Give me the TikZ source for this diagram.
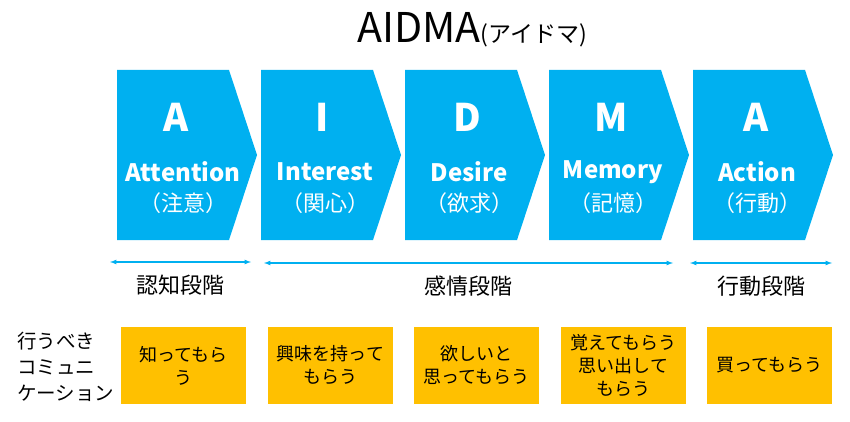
\documentclass[tikz,border=0pt]{standalone}
\usepackage{fontspec}
\setmainfont{Noto Sans CJK JP}
\definecolor{aidblue}{HTML}{00B0F0}
\definecolor{aidorange}{HTML}{FFC000}
\tikzset{
  chev/.style={fill=aidblue},
  letter/.style={text=white, font=\fontsize{38}{38}\selectfont\bfseries},
  word/.style={text=white, font=\fontsize{24}{24}\selectfont\bfseries},
  kanji/.style={text=white, font=\fontsize{22}{22}\selectfont},
  stage/.style={font=\fontsize{22}{22}\selectfont},
  todo/.style={fill=aidorange, minimum width=125pt, minimum height=77pt,
    align=center, inner sep=1pt, font=\fontsize{18}{23}\selectfont},
  span/.style={draw=aidblue, line width=1.2pt, latex-latex},
}
\begin{document}
\begin{tikzpicture}[x=1pt, y=-1pt, inner sep=0pt]
  \useasboundingbox (0,0) rectangle (850,422);
  % title
  \node (title) at (472,30) {{\fontsize{41}{41}\selectfont AIDMA}{\fontsize{23}{23}\selectfont (アイドマ)}};
  % chevrons
  \fill[chev] (117,70) -- ++(112,0) -- ++(28,85) -- ++(-28,85) -- ++(-112,0) -- cycle;
  \fill[chev] (261,70) -- ++(112,0) -- ++(28,85) -- ++(-28,85) -- ++(-112,0) -- cycle;
  \fill[chev] (405,70) -- ++(112,0) -- ++(28,85) -- ++(-28,85) -- ++(-112,0) -- cycle;
  \fill[chev] (549,70) -- ++(112,0) -- ++(28,85) -- ++(-28,85) -- ++(-112,0) -- cycle;
  \fill[chev] (693,70) -- ++(112,0) -- ++(28,85) -- ++(-28,85) -- ++(-112,0) -- cycle;
  \node[letter] (l1) at (176,117) {A};
  \node[word] (w1) at (183,172) {Attention};
  \node[kanji] (k1) at (183,203) {（注意）};
  \node[letter] (l2) at (322,117) {I};
  \node[word] (w2) at (325,172) {Interest};
  \node[kanji] (k2) at (325,203) {（関心）};
  \node[letter] (l3) at (467,117) {D};
  \node[word] (w3) at (469,172) {Desire};
  \node[kanji] (k3) at (469,203) {（欲求）};
  \node[letter] (l4) at (611,117) {M};
  \node[word] (w4) at (613,172) {Memory};
  \node[kanji] (k4) at (613,203) {（記憶）};
  \node[letter] (l5) at (756,117) {A};
  \node[word] (w5) at (757,172) {Action};
  \node[kanji] (k5) at (757,203) {（行動）};
  % stages
  \coordinate (s1a) at (110,262);
  \coordinate (s1b) at (251,262);
  \coordinate (s2a) at (264,263);
  \coordinate (s2b) at (673,263);
  \coordinate (s3a) at (690,263);
  \coordinate (s3b) at (832,263);
  \draw[span] (s1a) -- (s1b) node[midway, yshift=-23pt, stage] {認知段階};
  \draw[span] (s2a) -- (s2b) node[midway, yshift=-23pt, stage] {感情段階};
  \draw[span] (s3a) -- (s3b) node[midway, yshift=-23pt, stage] {行動段階};
  % communication
  \node[anchor=west, align=left, font=\fontsize{19.5}{26}\selectfont] (comm) at (17,367) {行うべき\\コミュニ\\ケーション};
  \node[todo] (t1) at (183.5,365.5) {知ってもら\\う};
  \node[todo] (t2) at (330.5,365.5) {興味を持って\\もらう};
  \node[todo] (t3) at (476.5,365.5) {欲しいと\\思ってもらう};
  \node[todo] (t4) at (623.5,365.5) {覚えてもらう\\思い出して\\もらう};
  \node[todo] (t5) at (769.5,365.5) {買ってもらう};
\end{tikzpicture}
\end{document}
